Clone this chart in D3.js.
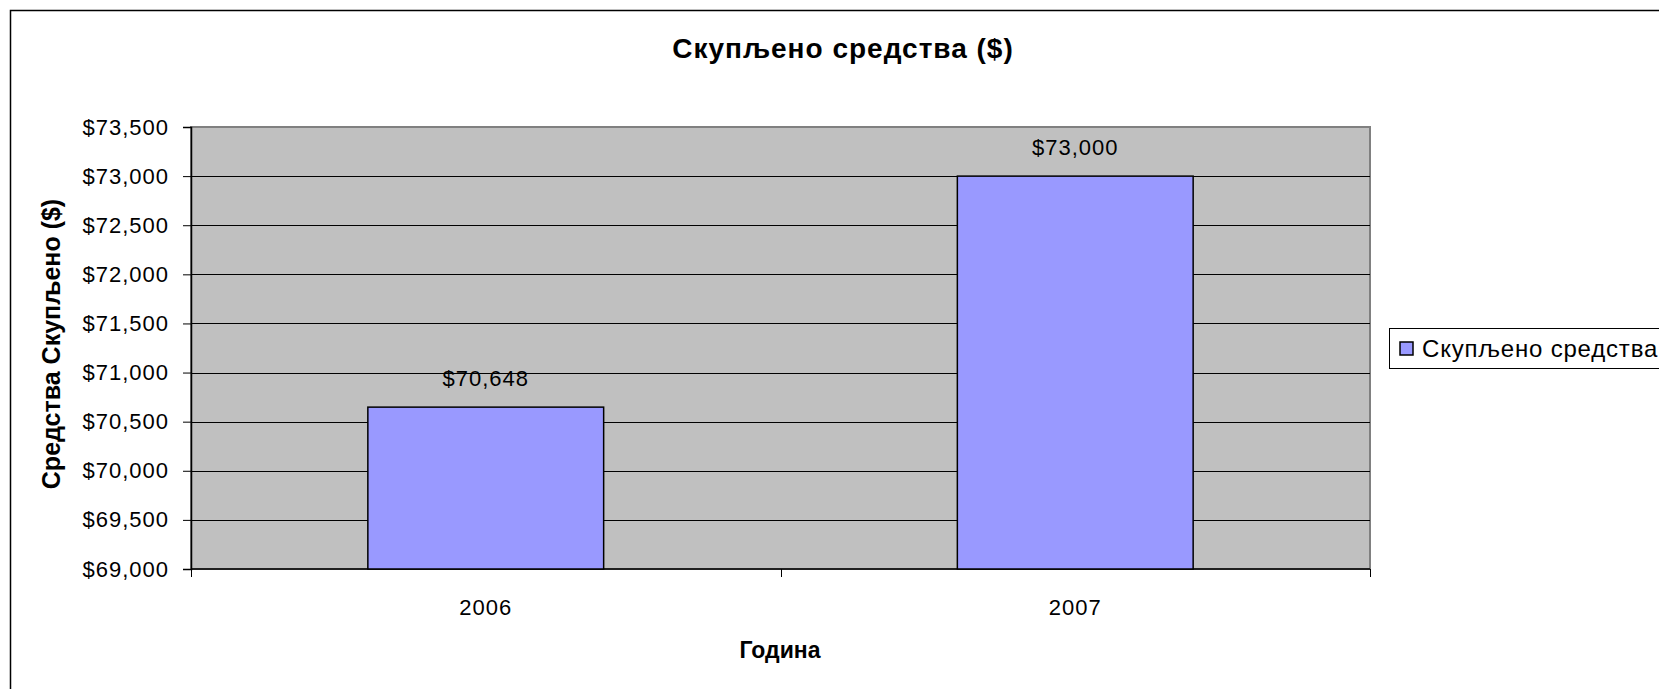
<!DOCTYPE html>
<html>
<head>
<meta charset="utf-8">
<script src="https://cdn.jsdelivr.net/npm/d3@7"></script>
<style>
  html, body { margin: 0; padding: 0; background: #fff; }
  svg { display: block; font-family: Arial, "Liberation Sans", sans-serif; }
</style>
</head>
<body>
<div id="chart"></div>
<script>
// data
const years = ['2006', '2007'];
const raised = [70648, 73000];
const yTicks = [69000, 69500, 70000, 70500, 71000, 71500, 72000, 72500, 73000, 73500];
const chartTitle = 'Скупљено средства ($)';
const xTitle = 'Година';
const yTitle = 'Средства Скупљено ($)';
const seriesName = 'Скупљено средства';

const width = 1659, height = 689;
const plot = {left: 191, right: 1370, top: 127, bottom: 569};

const svg = d3.select('#chart').append('svg')
    .attr('width', width)
    .attr('height', height);

// outer chart frame (right and bottom edges run past the window)
svg.append('rect')
    .attr('x', 10.5).attr('y', 10.5)
    .attr('width', 1700).attr('height', 700)
    .attr('fill', '#fff')
    .attr('stroke', '#000')
    .attr('stroke-width', 1.5);

const x = d3.scaleBand()
    .domain(years)
    .range([plot.left, plot.right])
    .paddingInner(0.6)
    .paddingOuter(0.3);

const y = d3.scaleLinear()
    .domain([69000, 73500])
    .range([plot.bottom, plot.top]);

// plot area
svg.append('rect')
    .attr('x', plot.left).attr('y', plot.top)
    .attr('width', plot.right - plot.left)
    .attr('height', plot.bottom - plot.top)
    .attr('fill', '#c0c0c0')
    .attr('stroke', '#808080')
    .attr('stroke-width', 2);

// gridlines
svg.append('g')
    .selectAll('line')
    .data(yTicks.slice(1, -1))
    .enter().append('line')
    .attr('x1', plot.left).attr('x2', plot.right)
    .attr('y1', d => Math.round(y(d)) + 0.5)
    .attr('y2', d => Math.round(y(d)) + 0.5)
    .attr('stroke', '#000')
    .attr('stroke-width', 1.2);

// y axis
const yAxis = svg.append('g')
    .attr('transform', `translate(${plot.left},0)`)
    .call(d3.axisLeft(y)
        .tickValues(yTicks)
        .tickSize(8)
        .tickPadding(14)
        .tickFormat(d => '$' + d3.format(',')(d)));
yAxis.select('.domain').attr('stroke', '#000').attr('stroke-width', 1.5);
yAxis.selectAll('.tick line').attr('stroke', '#000');
yAxis.selectAll('.tick text')
    .attr('font-size', 22)
    .attr('letter-spacing', 1)
    .attr('fill', '#000')
    .attr('font-family', 'Arial, "Liberation Sans", sans-serif');

// x axis: ticks at category boundaries
const xAxis = svg.append('g')
    .attr('transform', `translate(0,${plot.bottom})`);
xAxis.append('line')
    .attr('x1', plot.left).attr('x2', plot.right)
    .attr('y1', 0).attr('y2', 0)
    .attr('stroke', '#000').attr('stroke-width', 1.5);
const bounds = [plot.left].concat(years.map(d => x(d) + x.bandwidth() / 2 + x.step() / 2));
xAxis.selectAll('.xtick')
    .data(bounds)
    .enter().append('line')
    .attr('class', 'xtick')
    .attr('x1', d => Math.round(d) + 0.5).attr('x2', d => Math.round(d) + 0.5)
    .attr('y1', 0).attr('y2', 8)
    .attr('stroke', '#000');
xAxis.selectAll('.xlabel')
    .data(years)
    .enter().append('text')
    .attr('class', 'xlabel')
    .attr('x', d => x(d) + x.bandwidth() / 2)
    .attr('y', 46)
    .attr('text-anchor', 'middle')
    .attr('font-size', 22)
    .attr('letter-spacing', 1)
    .text(d => d);

// bars
svg.append('g')
    .selectAll('rect')
    .data(years)
    .enter().append('rect')
    .attr('x', d => x(d))
    .attr('y', (d, i) => y(raised[i]))
    .attr('width', x.bandwidth())
    .attr('height', (d, i) => y(69000) - y(raised[i]))
    .attr('fill', '#9999ff')
    .attr('stroke', '#000')
    .attr('stroke-width', 1.5);

// value labels
svg.append('g')
    .selectAll('text')
    .data(years)
    .enter().append('text')
    .attr('x', d => x(d) + x.bandwidth() / 2)
    .attr('y', (d, i) => y(raised[i]) - 21)
    .attr('text-anchor', 'middle')
    .attr('font-size', 22)
    .attr('letter-spacing', 1)
    .text((d, i) => '$' + d3.format(',')(raised[i]));

// titles
svg.append('text')
    .attr('x', 843).attr('y', 58)
    .attr('text-anchor', 'middle')
    .attr('font-size', 28)
    .attr('letter-spacing', 1)
    .attr('font-weight', 'bold')
    .text(chartTitle);

svg.append('text')
    .attr('transform', 'translate(60,344) rotate(-90)')
    .attr('text-anchor', 'middle')
    .attr('font-size', 25)
    .attr('font-weight', 'bold')
    .text(yTitle);

svg.append('text')
    .attr('x', 780).attr('y', 658)
    .attr('text-anchor', 'middle')
    .attr('font-size', 23)
    .attr('font-weight', 'bold')
    .text(xTitle);

// legend
const legend = svg.append('g').attr('transform', 'translate(1389,328)');
legend.append('rect')
    .attr('x', 0.5).attr('y', 0.5)
    .attr('width', 400).attr('height', 40)
    .attr('fill', '#fff')
    .attr('stroke', '#000')
    .attr('stroke-width', 1);
legend.append('rect')
    .attr('x', 11).attr('y', 14)
    .attr('width', 13).attr('height', 13)
    .attr('fill', '#9999ff')
    .attr('stroke', '#000')
    .attr('stroke-width', 1.5);
legend.append('text')
    .attr('x', 33).attr('y', 29)
    .attr('font-size', 24)
    .attr('letter-spacing', 0.8)
    .text(seriesName);
</script>
</body>
</html>
